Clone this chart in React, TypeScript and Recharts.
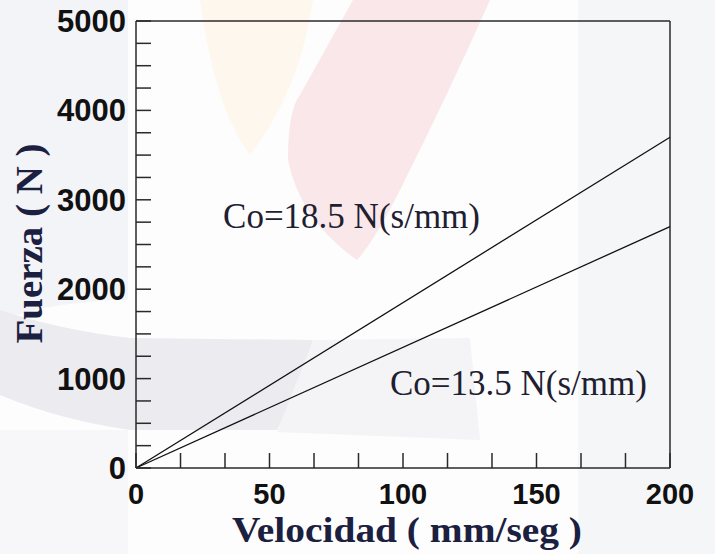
import { LineChart, Line, XAxis, YAxis, ReferenceLine, ReferenceDot } from 'recharts';

// velocity (mm/seg) vs force (N) for two damping coefficients
const velocity = [0, 200];
const force185 = [0, 3700];
const force135 = [0, 2700];

const xTicks = [0, 16.67, 33.33, 50, 66.67, 83.33, 100, 116.67, 133.33, 150, 166.67, 183.33, 200];
const yTicks = [
    0, 250, 500, 750, 1000, 1250, 1500, 1750, 2000, 2250, 2500, 2750, 3000,
    3250, 3500, 3750, 4000, 4250, 4500, 4750, 5000,
];
const xLabels = [0, 50, 100, 150, 200];
const yLabels = [0, 1000, 2000, 3000, 4000, 5000];

const notes = [
    { x: 32.6, y: 2690, text: 'Co=18.5 N(s/mm)' },
    { x: 95.1, y: 815, text: 'Co=13.5 N(s/mm)' },
];

const data = velocity.map((v, i) => ({ v, a: force185[i], b: force135[i] }));

const AXIS = '#2a2a2a';
const TITLE = '#1c2040';

function Backdrop() {
    // faint watermark behind the chart
    return (
        <svg width={715} height={554} style={{ position: 'absolute', left: 0, top: 0 }}>
            <rect width={715} height={554} fill="#fdfdfe" />
            <path d="M0,0 L128,0 L128,300 Q60,300 0,320 Z" fill="#f3f4f7" />
            <path d="M0,430 L128,430 L128,554 L0,554 Z" fill="#f7f7f9" />
            <rect x={578} y={0} width={137} height={554} fill="#f5f6f8" />
            <path d="M200,0 L313,0 Q300,90 250,155 Q215,110 200,0 Z" fill="#fdf7ee" />
            <path d="M353,0 L490,0 Q450,90 400,190 Q375,240 357,260 Q300,220 288,160 Q288,110 300,95 Z" fill="#f9e7e9" />
            <path d="M0,310 Q60,330 130,338 L313,340 Q300,390 277,430 L130,430 Q60,420 0,395 Z" fill="#ebebf0" />
            <path d="M313,340 L470,338 L480,440 L277,432 Z" fill="#f4f4f7" />
        </svg>
    );
}

export default function App() {
    return (
        <div style={{ position: 'absolute', left: 0, top: 0, width: 715, height: 554 }}>
            <Backdrop />
            <div style={{ position: 'absolute', left: 0, top: 0 }}>
                <LineChart width={715} height={554} data={data} margin={{ top: 21, right: 45, left: 0, bottom: 0 }}>
                    <XAxis
                        dataKey="v"
                        type="number"
                        domain={[0, 200]}
                        ticks={xTicks}
                        interval={0}
                        height={86}
                        stroke={AXIS}
                        strokeWidth={1.5}
                        tickSize={-15}
                        tickMargin={30}
                        tickFormatter={(t: number) => (xLabels.includes(Math.round(t)) && Math.abs(t - Math.round(t)) < 0.01 ? String(Math.round(t)) : '')}
                        tick={{ fontSize: 29, fontWeight: 700, fill: '#111', fontFamily: 'Liberation Sans, Arial, sans-serif' }}
                        label={{
                            content: (p: any) => (
                                <text
                                    x={p.viewBox.x + p.viewBox.width / 2 + 4}
                                    y={p.viewBox.y + 74}
                                    textAnchor="middle"
                                    fontFamily="Liberation Serif, Times New Roman, serif"
                                    fontWeight={700}
                                    fontSize={36}
                                    fill={TITLE}
                                    textLength={350}
                                    lengthAdjust="spacingAndGlyphs"
                                >
                                    Velocidad ( mm/seg )
                                </text>
                            ),
                        }}
                    />
                    <YAxis
                        type="number"
                        domain={[0, 5000]}
                        ticks={yTicks}
                        interval={0}
                        width={136}
                        stroke={AXIS}
                        strokeWidth={1.5}
                        tickSize={-15}
                        tickMargin={25}
                        tickFormatter={(t: number) => (yLabels.includes(t) ? String(t) : '')}
                        tick={{ fontSize: 31, fontWeight: 700, fill: '#111', fontFamily: 'Liberation Sans, Arial, sans-serif' }}
                        label={{
                            content: (p: any) => {
                                const cx = p.viewBox.x + 42;
                                const cy = p.viewBox.y + p.viewBox.height / 2 - 1;
                                return (
                                    <text
                                        x={cx}
                                        y={cy}
                                        transform={`rotate(-90 ${cx} ${cy})`}
                                        textAnchor="middle"
                                        fontFamily="Liberation Serif, Times New Roman, serif"
                                        fontWeight={700}
                                        fontSize={38}
                                        fill={TITLE}
                                        textLength={200}
                                        lengthAdjust="spacingAndGlyphs"
                                    >
                                        Fuerza ( N )
                                    </text>
                                );
                            },
                        }}
                    />
                    <ReferenceLine y={5000} stroke={AXIS} strokeWidth={1.5} />
                    <ReferenceLine x={200} stroke={AXIS} strokeWidth={1.5} />
                    {notes.map((n) => (
                        <ReferenceDot
                            key={n.text}
                            x={n.x}
                            y={n.y}
                            r={0}
                            stroke="none"
                            fill="none"
                            label={{
                                content: (p: any) => (
                                    <text
                                        x={p.viewBox.x}
                                        y={p.viewBox.y}
                                        fontFamily="Liberation Serif, Times New Roman, serif"
                                        fontSize={35}
                                        fill="#1e2030"
                                    >
                                        {n.text}
                                    </text>
                                ),
                            }}
                        />
                    ))}
                    <Line dataKey="a" stroke="#111" strokeWidth={1.3} dot={false} isAnimationActive={false} />
                    <Line dataKey="b" stroke="#111" strokeWidth={1.3} dot={false} isAnimationActive={false} />
                </LineChart>
            </div>
        </div>
    );
}
